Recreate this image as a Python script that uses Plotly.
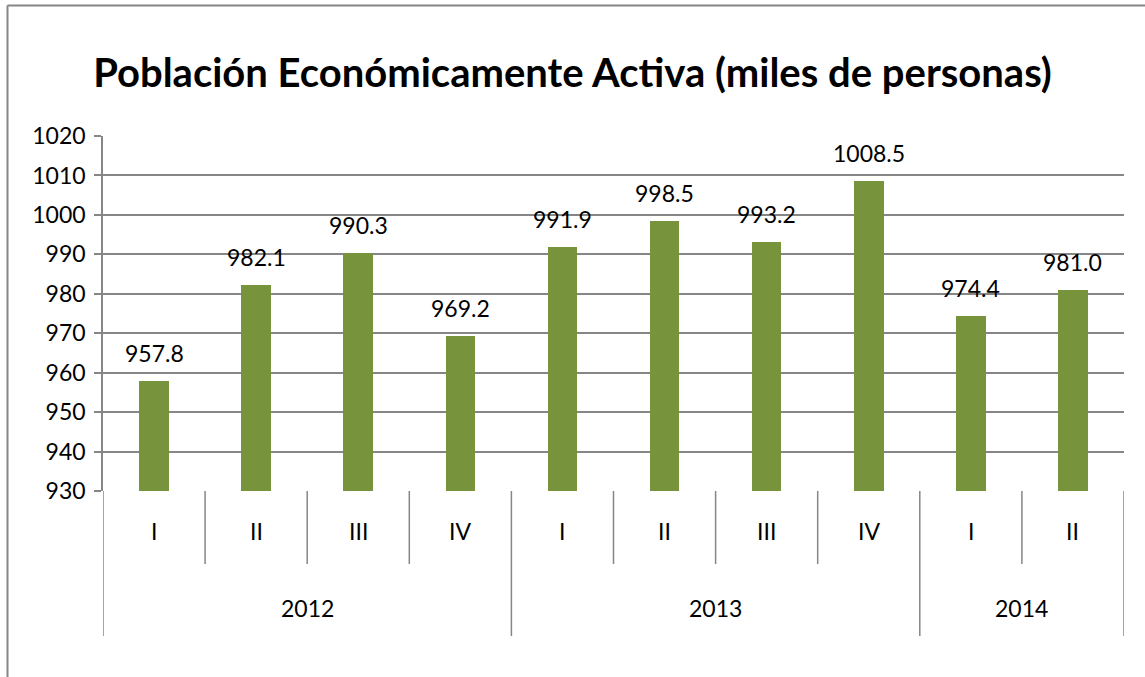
import plotly.graph_objects as go

years = ["2012", "2012", "2012", "2012", "2013", "2013", "2013", "2013", "2014", "2014"]
quarters = ["I", "II", "III", "IV", "I", "II", "III", "IV", "I", "II"]
values = [957.8, 982.1, 990.3, 969.2, 991.9, 998.5, 993.2, 1008.5, 974.4, 981.0]
y_ticks = [930, 940, 950, 960, 970, 980, 990, 1000, 1010, 1020]

W, H = 1145, 677
L, R, T, B = 103, 21, 136, 186
ph = H - T - B
pw = W - L - R

FONT = "Lato"
GRAY = "#868686"
BAR = "#77933C"
FS = 23

idx = list(range(len(values)))
fig = go.Figure()
fig.add_trace(go.Bar(x=idx, y=values, marker=dict(color=BAR, line=dict(width=0)),
                     width=0.29, hoverinfo="skip"))

ann = []
for i, v in zip(idx, values):
    ann.append(dict(x=i, y=v, xref="x", yref="y", text=f"{v:.1f}", showarrow=False,
                    yanchor="bottom", yshift=12, font=dict(family=FONT, size=FS, color="black")))

def py(pix):
    return (T + ph - pix) / ph

q_y = py(531)
y_y = py(608)
for i, q in zip(idx, quarters):
    ann.append(dict(x=i, y=q_y, xref="x", yref="paper", text=q, showarrow=False,
                    yanchor="middle", font=dict(family=FONT, size=FS, color="black")))

# year groups
groups = []
for i, yv in enumerate(years):
    if not groups or groups[-1][0] != yv:
        groups.append([yv, i, i])
    else:
        groups[-1][2] = i
for yv, a, b in groups:
    ann.append(dict(x=(a + b) / 2, y=y_y, xref="x", yref="paper", text=yv, showarrow=False,
                    yanchor="middle", font=dict(family=FONT, size=FS, color="black")))

shapes = []
starts = {a for _, a, _ in groups}
for i in idx + [len(values)]:
    x = i - 0.5
    bottom = py(636) if (i in starts or i == len(values)) else py(564)
    shapes.append(dict(type="line", xref="x", yref="paper", x0=x, x1=x, y0=0, y1=bottom,
                       line=dict(color=GRAY, width=1.5)))

# frame (left and top border of the chart area)
def px_x(p):
    return (p - L) / pw
shapes.append(dict(type="line", xref="paper", yref="paper", x0=px_x(7.5), x1=px_x(W + 5),
                   y0=py(5.5), y1=py(5.5), line=dict(color=GRAY, width=2)))
shapes.append(dict(type="line", xref="paper", yref="paper", x0=px_x(7.5), x1=px_x(7.5),
                   y0=py(5.5), y1=py(H + 5), line=dict(color=GRAY, width=2)))

fig.update_layout(
    width=W, height=H,
    margin=dict(l=L, r=R, t=T, b=B, autoexpand=False),
    paper_bgcolor="white", plot_bgcolor="white",
    showlegend=False,
    title=dict(text="<b>Población Económicamente Activa (miles de personas)</b>",
               x=0.5, xref="container", xanchor="center",
               y=1 - 73 / H, yref="container", yanchor="middle",
               font=dict(family=FONT, size=40, color="black")),
    xaxis=dict(range=[-0.5, len(values) - 0.5], showticklabels=False, showgrid=False,
               zeroline=False, ticks="", showline=False, fixedrange=True),
    yaxis=dict(range=[930, 1020], tickvals=y_ticks, ticktext=[str(t) for t in y_ticks],
               showgrid=True, gridcolor=GRAY, gridwidth=1.5, zeroline=False,
               showline=True, linecolor=GRAY, linewidth=1.5,
               ticks="outside", ticklen=7, tickcolor=GRAY, tickwidth=1.5,
               tickfont=dict(family=FONT, size=FS, color="black"), ticklabelstandoff=4),
    annotations=ann, shapes=shapes, bargap=0,
)
fig.write_html("out.html", config={"displayModeBar": False},
               post_script="document.body.style.margin='0';")
